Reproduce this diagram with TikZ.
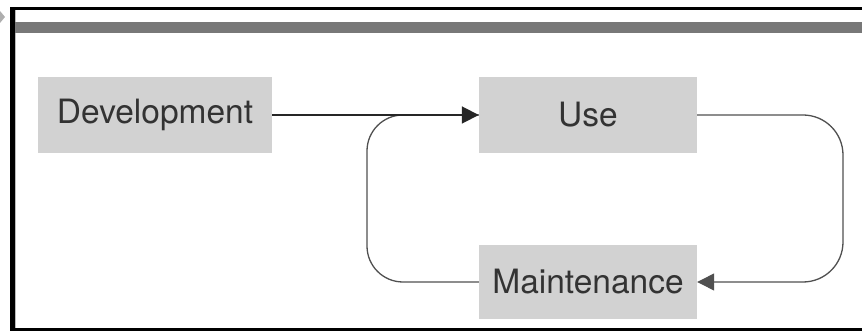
\documentclass[tikz,border=0pt]{standalone}
\usepackage{fontspec}
\setmainfont{TeX Gyre Heros}
\usetikzlibrary{arrows.meta}
\definecolor{boxgray}{HTML}{D2D2D2}
\definecolor{bargray}{HTML}{787878}
\definecolor{linegray}{HTML}{505050}
\definecolor{textgray}{HTML}{333333}
\begin{document}
\begin{tikzpicture}[x=1pt,y=-1pt]
          \tikzset{BoxStyle/.style = {
              shape = rectangle,
              fill = boxgray,
              text = textgray,
              inner sep = 0pt,
              font = \fontsize{33.5}{38}\selectfont},
            TipStyle/.style = {-{Triangle[length=17pt,width=17pt]}},
            FlowStyle/.style = {
              draw = black!85,
              line width = 1.8pt,
              TipStyle},
            LoopStyle/.style = {
              draw = linegray,
              line width = 1.3pt}}
          \useasboundingbox (0,0) rectangle (862,331);
          % frame
          \fill[bargray!60] (0,11) -- (5,17) -- (0,23) -- cycle;
          \fill[black] (10,7) rectangle (862,10);
          \fill[black] (10,7) rectangle (15,331);
          \fill[bargray!50] (15,10) rectangle (16,328);
          \fill[black] (10,328) rectangle (862,331);
          \fill[bargray] (15,22) rectangle (862,33);
          % boxes
          \node[BoxStyle, minimum width=234pt, minimum height=76pt] (dev) at (155,115) {Development};
          \node[BoxStyle, minimum width=218pt, minimum height=76pt] (use) at (588,115) {Use};
          \node[BoxStyle, minimum width=218pt, minimum height=74pt] (maint) at (588,282) {Maintenance};
          \coordinate (ne) at (843,115);
          \coordinate (se) at (843,282);
          \coordinate (sw) at (367,282);
          \coordinate (nw) at (367,115);
          % connectors
          \draw[LoopStyle, rounded corners=36pt] (maint.west) -- (sw) -- (nw) -- (use.west);
          \draw[FlowStyle] (dev.east) -- (use.west);
          \draw[LoopStyle, rounded corners=40pt, TipStyle] (use.east) -- (ne) -- (se) -- (maint.east);
        \end{tikzpicture}
\end{document}
